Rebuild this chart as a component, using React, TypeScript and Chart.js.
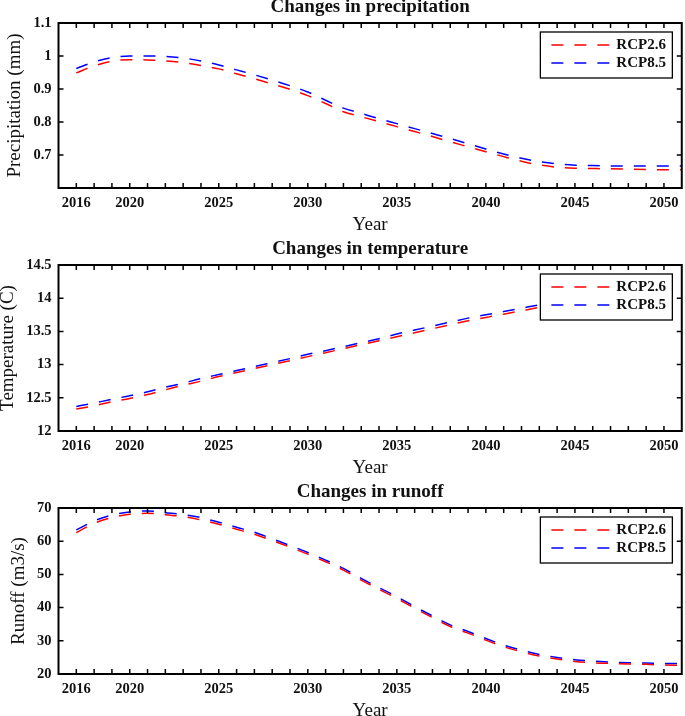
import React, { useEffect, useRef } from 'react';
import { Chart, registerables } from 'chart.js';

Chart.register(...registerables);

// x positions (time steps) and the tick labels used by the original figure
const steps = [1, 2, 3, 4, 5, 6, 7, 8, 9, 10, 11, 12, 13, 14, 15, 16, 17, 18, 19, 20, 21, 22, 23, 24, 25, 26, 27, 28, 29, 30, 31, 32, 33, 34, 35];
const xTickPos = [1, 4, 9, 14, 19, 24, 29, 34];
const xTickLabels = ['2016', '2020', '2025', '2030', '2035', '2040', '2045', '2050'];

const seriesNames = ['RCP2.6', 'RCP8.5'];
const seriesColors = ['#ff0000', '#0000ff'];

// Precipitation (mm)
const precipRcp26 = [0.949, 0.970, 0.984, 0.989, 0.988, 0.985, 0.980, 0.971, 0.961, 0.946, 0.931, 0.915, 0.899, 0.880, 0.856, 0.831, 0.816, 0.801, 0.786, 0.771, 0.756, 0.740, 0.725, 0.710, 0.695, 0.681, 0.670, 0.663, 0.660, 0.659, 0.658, 0.657, 0.656, 0.655, 0.655];
const precipRcp85 = [0.962, 0.982, 0.995, 1.000, 1.000, 0.999, 0.994, 0.985, 0.973, 0.958, 0.943, 0.927, 0.910, 0.891, 0.866, 0.842, 0.826, 0.810, 0.795, 0.780, 0.765, 0.750, 0.734, 0.718, 0.703, 0.690, 0.680, 0.673, 0.669, 0.668, 0.667, 0.667, 0.667, 0.667, 0.667];
const precipYTicks = [0.6, 0.7, 0.8, 0.9, 1, 1.1];
const precipYTickLabels = ['', '0.7', '0.8', '0.9', '1', '1.1'];

// Temperature (C)
const tempRcp26 = [12.33, 12.38, 12.44, 12.49, 12.55, 12.62, 12.69, 12.75, 12.82, 12.88, 12.94, 13.00, 13.06, 13.12, 13.18, 13.24, 13.30, 13.36, 13.42, 13.48, 13.54, 13.60, 13.66, 13.71, 13.76, 13.81, 13.86, 13.90, 13.95, 13.99, 14.03, 14.07, 14.11, 14.15];
const tempRcp85 = [12.37, 12.42, 12.48, 12.53, 12.59, 12.66, 12.72, 12.79, 12.85, 12.91, 12.97, 13.03, 13.09, 13.155, 13.21, 13.27, 13.33, 13.39, 13.46, 13.52, 13.58, 13.64, 13.70, 13.75, 13.80, 13.85, 13.90, 13.94, 13.99, 14.03, 14.07, 14.11, 14.15, 14.19];
const tempYTicks = [12, 12.5, 13, 13.5, 14, 14.5];
const tempYTickLabels = ['12', '12.5', '13', '13.5', '14', '14.5'];

// Runoff (m3/s)
const runoffRcp26 = [62.6, 65.4, 67.1, 68.1, 68.4, 68.0, 67.4, 66.4, 65.1, 63.6, 62.1, 60.2, 58.2, 56.1, 53.8, 51.3, 48.3, 45.5, 42.8, 39.8, 37.0, 34.3, 32.3, 30.2, 28.2, 26.7, 25.4, 24.5, 23.8, 23.4, 23.2, 23.0, 22.9, 22.7, 22.6];
const runoffRcp85 = [63.4, 66.1, 67.9, 68.8, 69.1, 68.6, 68.0, 67.1, 65.7, 64.2, 62.7, 60.7, 58.7, 56.6, 54.3, 51.8, 48.8, 46.0, 43.3, 40.3, 37.5, 34.8, 32.8, 30.7, 28.7, 27.2, 25.9, 25.0, 24.3, 23.9, 23.6, 23.4, 23.3, 23.2, 23.2];
const runoffYTicks = [20, 30, 40, 50, 60, 70];
const runoffYTickLabels = ['20', '30', '40', '50', '60', '70'];

const SERIF = '"Liberation Serif", "Times New Roman", serif';
const TEXT = '#111111';
const W = 685;
const PLOT_LEFT = 58.5;
const PLOT_RIGHT = 683.4;

type Panel = {
  title: string;
  yTitle: string;
  yTitleX: number;
  series: number[][];
  yTicks: number[];
  yTickLabels: string[];
  top: number;
  height: number;
  chartTop: number;
  chartBottom: number;
};

const panels: Panel[] = [
  {
    title: 'Changes in precipitation', yTitle: 'Precipitation (mm)', yTitleX: 15.5,
    series: [precipRcp26, precipRcp85], yTicks: precipYTicks, yTickLabels: precipYTickLabels,
    top: 0, height: 236, chartTop: 23, chartBottom: 188,
  },
  {
    title: 'Changes in temperature', yTitle: 'Temperature (C)', yTitleX: 8,
    series: [tempRcp26, tempRcp85], yTicks: tempYTicks, yTickLabels: tempYTickLabels,
    top: 236, height: 242, chartTop: 29, chartBottom: 195,
  },
  {
    title: 'Changes in runoff', yTitle: 'Runoff (m3/s)', yTitleX: 19,
    series: [runoffRcp26, runoffRcp85], yTicks: runoffYTicks, yTickLabels: runoffYTickLabels,
    top: 478, height: 238, chartTop: 30, chartBottom: 196,
  },
];

function makeDecorPlugin(p: Panel) {
  return {
    id: 'matlabDecor',
    afterDatasetsDraw(chart: any) {
      const ctx = chart.ctx;
      const ca = chart.chartArea;
      // legend box inside chart area
      const bx = ca.right - 9.4 - 132;
      const by = ca.top + 9;
      const bw = 132;
      const bh = 46;
      ctx.save();
      ctx.fillStyle = '#ffffff';
      ctx.fillRect(bx, by, bw, bh);
      ctx.strokeStyle = '#000000';
      ctx.lineWidth = 1.3;
      ctx.strokeRect(bx, by, bw, bh);
      seriesNames.forEach((name, i) => {
        const ry = by + 13 + i * 18;
        ctx.strokeStyle = seriesColors[i];
        ctx.lineWidth = 1.5;
        ctx.setLineDash([12, 11]);
        ctx.beginPath();
        ctx.moveTo(bx + 11, ry);
        ctx.lineTo(bx + 70, ry);
        ctx.stroke();
        ctx.setLineDash([]);
        ctx.fillStyle = TEXT;
        ctx.font = 'bold 15px ' + SERIF;
        ctx.textAlign = 'left';
        ctx.textBaseline = 'middle';
        ctx.fillText(name, bx + 76, ry + 0.5);
      });
      ctx.restore();
    },
    afterDraw(chart: any) {
      const ctx = chart.ctx;
      const ca = chart.chartArea;
      const xs = chart.scales.x;
      const ys = chart.scales.y;
      ctx.save();
      // inward tick marks
      ctx.strokeStyle = '#000000';
      ctx.lineWidth = 1.5;
      ctx.beginPath();
      steps.forEach((s) => {
        if (s <= 0 || s >= 35) return;
        const px = xs.getPixelForValue(s);
        ctx.moveTo(px, ca.bottom);
        ctx.lineTo(px, ca.bottom - 5);
        ctx.moveTo(px, ca.top);
        ctx.lineTo(px, ca.top + 5);
      });
      p.yTicks.forEach((v, i) => {
        if (i === 0 || i === p.yTicks.length - 1) return;
        const py = ys.getPixelForValue(v);
        ctx.moveTo(ca.left, py);
        ctx.lineTo(ca.left + 5, py);
        ctx.moveTo(ca.right, py);
        ctx.lineTo(ca.right - 5, py);
      });
      ctx.stroke();
      // frame
      ctx.lineWidth = 2;
      ctx.strokeRect(ca.left, ca.top, ca.right - ca.left, ca.bottom - ca.top);
      // titles
      const cx = (ca.left + ca.right) / 2;
      ctx.fillStyle = TEXT;
      ctx.textAlign = 'center';
      ctx.textBaseline = 'alphabetic';
      ctx.font = 'bold 19px ' + SERIF;
      ctx.fillText(p.title, cx, ca.top - 11.5);
      ctx.font = '19px ' + SERIF;
      ctx.fillText('Year', cx, ca.bottom + 42);
      ctx.translate(p.yTitleX, (ca.top + ca.bottom) / 2);
      ctx.rotate(-Math.PI / 2);
      ctx.textBaseline = 'middle';
      ctx.fillText(p.yTitle, 0, 0);
      ctx.restore();
    },
  };
}

function PanelChart({ p }: { p: Panel }) {
  const ref = useRef<HTMLCanvasElement>(null);
  useEffect(() => {
    if (!ref.current) return;
    const chart = new Chart(ref.current, {
      type: 'line',
      data: {
        datasets: p.series.map((arr, i) => ({
          label: seriesNames[i],
          data: arr.map((v, k) => ({ x: steps[k], y: v })),
          borderColor: seriesColors[i],
          backgroundColor: seriesColors[i],
          borderWidth: 1.5,
          borderDash: [12, 11],
          pointRadius: 0,
          fill: false,
          cubicInterpolationMode: 'monotone' as const,
        })),
      },
      options: {
        responsive: false,
        animation: false,
        events: [],
        layout: { padding: { top: p.chartTop, left: 0, right: W - PLOT_RIGHT, bottom: 0 } },
        plugins: { legend: { display: false }, tooltip: { enabled: false }, title: { display: false } },
        scales: {
          x: {
            type: 'linear',
            min: 0,
            max: 35,
            grid: { display: false, drawTicks: false },
            border: { display: false },
            afterBuildTicks: (scale: any) => {
              scale.ticks = xTickPos.map((v) => ({ value: v }));
            },
            afterFit: (scale: any) => {
              scale.height = p.height - p.chartBottom;
            },
            ticks: {
              autoSkip: false,
              maxRotation: 0,
              padding: 6.5,
              color: TEXT,
              font: { family: SERIF, size: 14.5, weight: 'bold', lineHeight: 1.2 },
              callback: (v: any) => {
                const k = xTickPos.indexOf(Number(v));
                return k >= 0 ? xTickLabels[k] : '';
              },
            },
          },
          y: {
            type: 'linear',
            min: p.yTicks[0],
            max: p.yTicks[p.yTicks.length - 1],
            grid: { display: false, drawTicks: false },
            border: { display: false },
            afterBuildTicks: (scale: any) => {
              scale.ticks = p.yTicks.map((v) => ({ value: v }));
            },
            afterFit: (scale: any) => {
              scale.width = PLOT_LEFT;
            },
            ticks: {
              padding: 7,
              color: TEXT,
              font: { family: SERIF, size: 14.5, weight: 'bold', lineHeight: 1.2 },
              callback: (v: any) => {
                const k = p.yTicks.findIndex((t) => Math.abs(t - Number(v)) < 1e-9);
                return k >= 0 ? p.yTickLabels[k] : '';
              },
            },
          },
        },
      },
      plugins: [makeDecorPlugin(p)],
    } as any);
    return () => chart.destroy();
  }, [p]);
  return (
    <canvas
      ref={ref}
      width={W}
      height={p.height}
      style={{ position: 'absolute', left: 0, top: p.top, width: W, height: p.height, display: 'block' }}
    />
  );
}

export default function App() {
  return (
    <div style={{ position: 'absolute', left: 0, top: 0, width: W, height: 716, background: '#ffffff', overflow: 'hidden' }}>
      {panels.map((p, i) => (
        <PanelChart key={i} p={p} />
      ))}
    </div>
  );
}
